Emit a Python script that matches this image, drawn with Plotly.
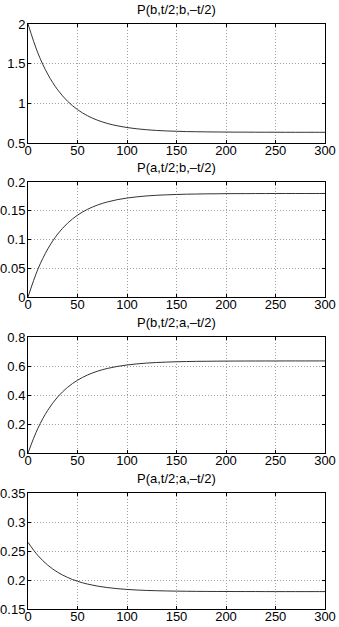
import plotly.graph_objects as go

# time axis (shared by all four panels)
t = [0, 10, 20, 30, 40, 50, 60, 70, 80, 90, 100, 110, 120, 130, 140, 150,
     160, 170, 180, 190, 200, 210, 220, 230, 240, 250, 260, 270, 280, 290, 300]

p_bb = [2.000, 1.634, 1.366, 1.170, 1.026, 0.921, 0.844, 0.788, 0.747, 0.717,
        0.695, 0.679, 0.667, 0.658, 0.652, 0.648, 0.644, 0.642, 0.640, 0.639,
        0.638, 0.637, 0.637, 0.636, 0.636, 0.636, 0.635, 0.635, 0.635, 0.635, 0.635]

p_ab = [0.0, 0.0483, 0.0836, 0.1095, 0.1284, 0.1423, 0.1524, 0.1598, 0.1652, 0.1692,
        0.1721, 0.1742, 0.1758, 0.1769, 0.1777, 0.1783, 0.1788, 0.1791, 0.1794, 0.1795,
        0.1797, 0.1798, 0.1798, 0.1799, 0.1799, 0.1800, 0.1800, 0.1800, 0.1800, 0.1800, 0.1800]

p_ba = [0.0, 0.1704, 0.2951, 0.3867, 0.4531, 0.5019, 0.5376, 0.5638, 0.5829, 0.5968,
        0.6071, 0.6146, 0.6201, 0.6241, 0.6270, 0.6292, 0.6307, 0.6319, 0.6327, 0.6333,
        0.6338, 0.6341, 0.6343, 0.6345, 0.6346, 0.6347, 0.6348, 0.6349, 0.6349, 0.6350, 0.6350]

p_aa = [0.265, 0.2422, 0.2255, 0.2133, 0.2044, 0.1978, 0.1930, 0.1895, 0.1870, 0.1851,
        0.1837, 0.1827, 0.1820, 0.1815, 0.1811, 0.1808, 0.1806, 0.1804, 0.1803, 0.1802,
        0.1802, 0.1801, 0.1801, 0.1801, 0.1800, 0.1800, 0.1800, 0.1800, 0.1800, 0.1800, 0.1800]

titles = ["P(b,t/2;b,\u2013t/2)", "P(a,t/2;b,\u2013t/2)",
          "P(b,t/2;a,\u2013t/2)", "P(a,t/2;a,\u2013t/2)"]
series = [p_bb, p_ab, p_ba, p_aa]
y_ranges = [[0.5, 2], [0, 0.2], [0, 0.8], [0.15, 0.35]]
y_dticks = [0.5, 0.05, 0.2, 0.05]

W, H = 339, 627
x_dom = [28 / W, 325 / W]
# panel pixel extents (top, bottom) measured from top of the image
panels_px = [(24, 143), (182, 297), (337, 453), (493, 609)]

font = dict(family="Liberation Sans, Arial, sans-serif", size=13, color="black")

fig = go.Figure()
for i, (ys, ttl, yr, dt, (top, bot)) in enumerate(
        zip(series, titles, y_ranges, y_dticks, panels_px), start=1):
    sfx = "" if i == 1 else str(i)
    fig.add_trace(go.Scatter(
        x=t, y=ys, mode="lines", line=dict(color="#333333", width=1, shape="spline"),
        xaxis="x" + sfx, yaxis="y" + sfx, showlegend=False, hoverinfo="skip"))

    y_dom = [1 - bot / H, 1 - top / H]
    axis_common = dict(showline=True, linecolor="black", linewidth=1, mirror="ticks",
                       ticks="inside", ticklen=3, tickcolor="black", automargin=False,
                       showgrid=True, gridcolor="#a0a0a0", griddash="1px,2px", gridwidth=1,
                       zeroline=False, tickfont=font)
    fig.layout["xaxis" + sfx] = dict(domain=x_dom, range=[0, 300], dtick=50, tick0=0,
                                     anchor="y" + sfx, ticklabelstandoff=-5, **axis_common)
    fig.layout["yaxis" + sfx] = dict(domain=y_dom, range=yr, dtick=dt, tick0=0,
                                     anchor="x" + sfx, ticklabelstandoff=-1, **axis_common)
    fig.add_annotation(text=ttl, xref="paper", yref="paper",
                       x=(x_dom[0] + x_dom[1]) / 2, y=y_dom[1],
                       xanchor="center", yanchor="bottom", yshift=5,
                       showarrow=False, font=font)

fig.update_layout(template="none", width=W, height=H, margin=dict(l=0, r=0, t=0, b=0),
                  paper_bgcolor="white", plot_bgcolor="white", font=font)

# the page body has a default 8px margin; drop it so the figure sits at 0,0
fig.write_html("out.html", config={"displayModeBar": False},
               post_script="document.body.style.margin='0';")
